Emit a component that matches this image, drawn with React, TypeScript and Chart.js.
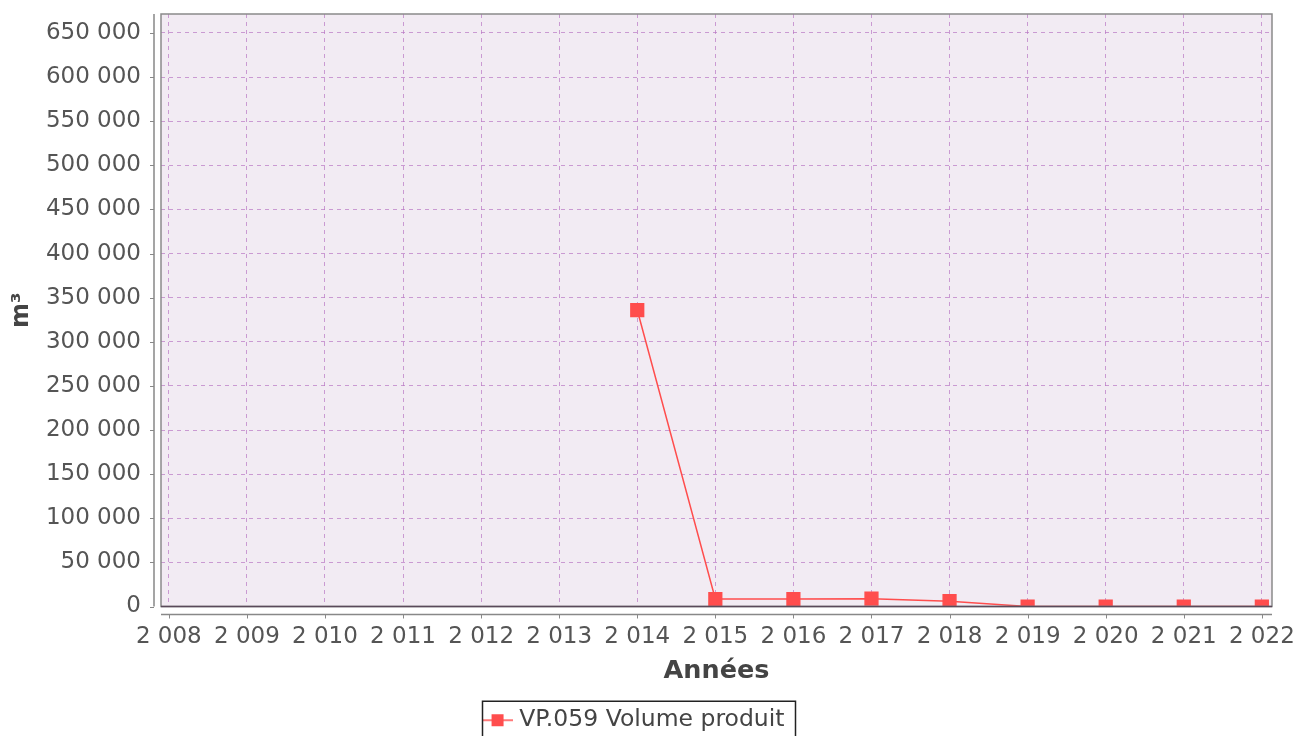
import React, { useEffect, useRef } from "react";
import { Chart, registerables } from "chart.js";

Chart.register(...registerables);

const years = [2014, 2015, 2016, 2017, 2018, 2019, 2020, 2021, 2022];
const volumes = [336000, 8500, 8500, 8800, 6000, 0, 0, 0, 0];
const seriesLabel = "VP.059 Volume produit";
const xTitle = "Années";
const yTitle = "m³";
const xTickYears = [2008, 2009, 2010, 2011, 2012, 2013, 2014, 2015, 2016, 2017, 2018, 2019, 2020, 2021, 2022];
const yTickValues = [0, 50000, 100000, 150000, 200000, 250000, 300000, 350000, 400000, 450000, 500000, 550000, 600000, 650000];
const xMin = 2007.9;
const xMax = 2022.13;
const yMin = 0;
const yMax = 671500;

const fmt = (v: number) => {
  const s = Math.round(v).toString();
  return s.replace(/\B(?=(\d{3})+(?!\d))/g, " ");
};

const RED = "#ff4d4d";
const FONT = "'DejaVu Sans', sans-serif";

function makeLegendIcon(): HTMLCanvasElement {
  const c = document.createElement("canvas");
  c.width = 30;
  c.height = 14;
  const g = c.getContext("2d")!;
  g.strokeStyle = RED;
  g.lineWidth = 1.5;
  g.beginPath();
  g.moveTo(0, 7);
  g.lineTo(30, 7);
  g.stroke();
  g.fillStyle = RED;
  g.fillRect(9, 1, 12, 12);
  return c;
}

const framePlugin = {
  id: "frame",
  beforeDraw(chart: any) {
    const { ctx, chartArea: a } = chart;
    ctx.save();
    ctx.fillStyle = "#f2ebf3";
    ctx.fillRect(a.left, a.top, a.right - a.left, a.bottom - a.top);
    ctx.restore();
  },
  afterDraw(chart: any) {
    const { ctx, chartArea: a, scales } = chart;
    ctx.save();
    ctx.strokeStyle = "#8a8a8a";
    ctx.lineWidth = 1.5;
    ctx.strokeRect(a.left, a.top, a.right - a.left, a.bottom - a.top);
    ctx.strokeStyle = "#888888";
    ctx.lineWidth = 1.5;
    const ax = a.left - 7;
    ctx.beginPath();
    ctx.moveTo(ax, a.top);
    ctx.lineTo(ax, a.bottom);
    const ay = a.bottom + 8;
    ctx.moveTo(a.left, ay);
    ctx.lineTo(a.right, ay);
    ctx.stroke();
    ctx.lineWidth = 1;
    ctx.beginPath();
    scales.y.ticks.forEach((t: any) => {
      const py = Math.round(scales.y.getPixelForValue(t.value)) + 0.5;
      ctx.moveTo(ax - 4, py);
      ctx.lineTo(ax, py);
    });
    scales.x.ticks.forEach((t: any) => {
      const px = Math.round(scales.x.getPixelForValue(t.value)) + 0.5;
      ctx.moveTo(px, ay);
      ctx.lineTo(px, ay + 4);
    });
    ctx.stroke();
    ctx.strokeStyle = "#5a4a5a";
    ctx.lineWidth = 1.5;
    const z = scales.y.getPixelForValue(0);
    ctx.beginPath();
    ctx.moveTo(a.left, z);
    ctx.lineTo(a.right, z);
    ctx.stroke();
    const lg = chart.legend;
    if (lg && lg.legendHitBoxes && lg.legendHitBoxes.length) {
      const hb = lg.legendHitBoxes[0];
      const cy = hb.top + hb.height / 2;
      ctx.strokeStyle = "#222222";
      ctx.lineWidth = 1.5;
      ctx.strokeRect(hb.left - 5, cy - 19, hb.width + 16, 60);
    }
    ctx.restore();
  },
};

export default function App() {
  const ref = useRef<HTMLCanvasElement | null>(null);
  useEffect(() => {
    document.body.style.margin = "0";
    document.body.style.overflow = "hidden";
    const icon = makeLegendIcon();
    const gridColor = "rgba(185,120,195,0.7)";
    const chart = new Chart(ref.current!, {
      type: "line",
      data: {
        datasets: [
          {
            label: seriesLabel,
            data: years.map((y, i) => ({ x: y, y: volumes[i] })),
            borderColor: RED,
            backgroundColor: RED,
            borderWidth: 1.5,
            pointStyle: "rect",
            pointRadius: 9,
            pointHoverRadius: 9,
            pointBackgroundColor: RED,
            pointBorderColor: RED,
            clip: 0,
            tension: 0,
          } as any,
        ],
      },
      options: {
        animation: false,
        responsive: false,
        maintainAspectRatio: false,
        layout: { padding: { top: 14, right: 24, left: 0, bottom: 8 } },
        plugins: {
          tooltip: { enabled: false },
          legend: {
            position: "bottom",
            labels: {
              usePointStyle: true,
              pointStyle: icon as any,
              pointStyleWidth: 20,
              padding: 10,
              color: "#444444",
              font: { family: FONT, size: 23.5 },
              generateLabels: () => [
                {
                  text: seriesLabel,
                  pointStyle: icon,
                  fillStyle: RED,
                  strokeStyle: RED,
                  lineWidth: 0,
                  hidden: false,
                  datasetIndex: 0,
                  fontColor: "#444444",
                } as any,
              ],
            },
          },
        },
        scales: {
          x: {
            type: "linear",
            min: xMin,
            max: xMax,
            border: { display: false, dash: [4, 4] },
            grid: {
              color: gridColor,
              lineWidth: 1,
              drawTicks: false,
            },
            afterBuildTicks: (s: any) => {
              s.ticks = xTickYears.map((v) => ({ value: v }));
            },
            ticks: {
              padding: 17,
              autoSkip: false,
              maxRotation: 0,
              color: "#555555",
              font: { family: FONT, size: 23 },
              callback: (v: any) => fmt(Number(v)),
            },
            title: {
              display: true,
              text: xTitle,
              color: "#444444",
              font: { family: FONT, size: 25.5, weight: "bold" },
              padding: { top: 0, bottom: 12 },
            },
            afterFit: (s: any) => {
              s.height = 92;
              s.paddingLeft = 0;
              s.paddingRight = 0;
            },
          } as any,
          y: {
            type: "linear",
            min: yMin,
            max: yMax,
            border: { display: false, dash: [4, 4] },
            grid: {
              color: gridColor,
              lineWidth: 1,
              drawTicks: false,
            },
            afterBuildTicks: (s: any) => {
              s.ticks = yTickValues.map((v) => ({ value: v }));
            },
            ticks: {
              padding: 20,
              autoSkip: false,
              color: "#555555",
              font: { family: FONT, size: 23 },
              callback: (v: any) => fmt(Number(v)),
            },
            title: {
              display: true,
              text: yTitle,
              color: "#444444",
              font: { family: FONT, size: 24, weight: "bold" },
              padding: { top: 7, bottom: 0 },
            },
            afterFit: (s: any) => {
              s.width = 161;
              s.paddingTop = 0;
              s.paddingBottom = 0;
            },
          } as any,
        },
      },
      plugins: [framePlugin],
    });
    return () => chart.destroy();
  }, []);
  return (
    <div style={{ width: 1296, height: 736, overflow: "hidden", position: "relative" }}>
      <canvas ref={ref} width={1296} height={750} style={{ display: "block" }} />
    </div>
  );
}
